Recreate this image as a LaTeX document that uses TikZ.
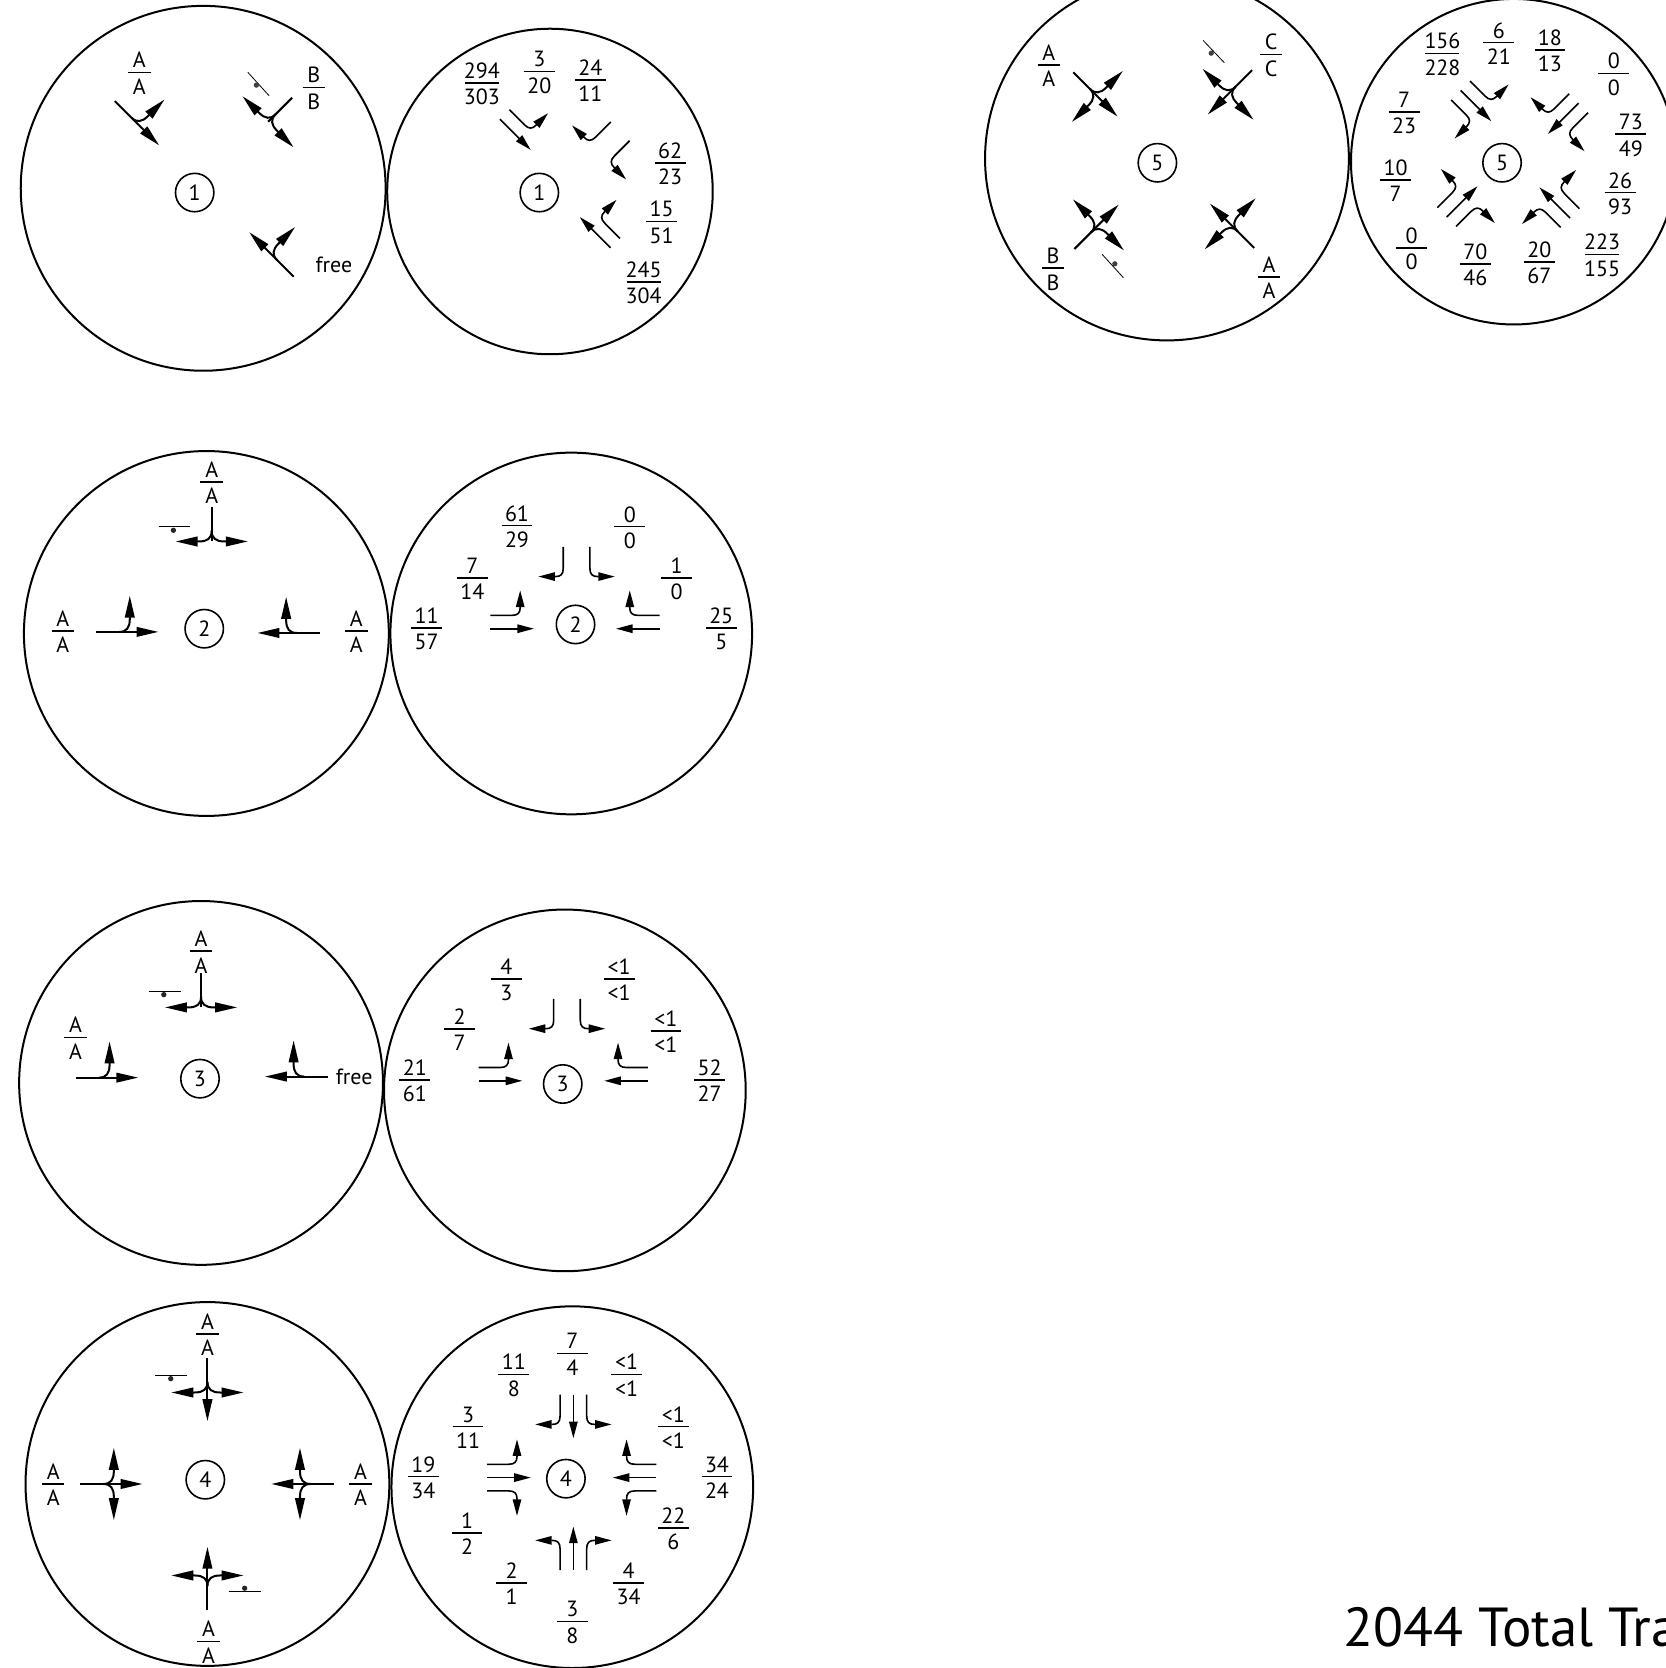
\documentclass[tikz,border=0pt]{standalone}
\usepackage{xcolor}
\usepackage{fontspec}
\setmainfont{PT Sans}
\usetikzlibrary{arrows.meta}
\tikzset{
  ring/.style={line width=1pt, color=black},
  idcircle/.style={circle, draw, minimum size=19.2pt, inner sep=0pt, line width=0.8pt, font=\fontsize{11}{12}\selectfont},
  flowlabel/.style={inner sep=0pt, font=\fontsize{11}{12}\selectfont},
  bigarrow/.style={-{Triangle[length=11pt,width=4.8pt]}, line width=1pt},
  stemline/.style={line width=1pt},
  lanearrow/.style={-{Triangle[length=8.3pt,width=4.2pt]}, line width=0.8pt},
  priority/.style={line width=0.4pt}
}
% turning movements, drawn pointing down, then moved and turned by \lanegroup
\newcommand{\lanegroup}[3]{\begin{scope}[shift={#1},rotate=#2]#3\end{scope}}
\newcommand{\stem}{\draw[stemline] (0,-32) -- (0,0);}
\newcommand{\stemthru}{\draw[bigarrow] (0,0) -- (0,27);}
\newcommand{\stemleft}{\draw[bigarrow] (0,-10) .. controls (0,-3) and (-4,0) .. (-12,0) -- (-34,0);}
\newcommand{\stemright}{\draw[bigarrow] (0,-10) .. controls (0,-3) and (4,0) .. (12,0) -- (34,0);}
\newcommand{\lanethru}{\draw[lanearrow] (0,0) -- (0,41);}
\newcommand{\laneleft}{\draw[lanearrow] (-12.5,0) -- (-12.5,20) .. controls (-12.5,26) and (-15,28) .. (-20,28) -- (-36,28);}
\newcommand{\laneright}{\draw[lanearrow] (12.5,0) -- (12.5,20) .. controls (12.5,26) and (15,28) .. (20,28) -- (36,28);}
\newcommand{\ratio}[3][15.4pt]{\vbox{\offinterlineskip\hbox to #1{\hss\vphantom{0}#2\hss}\kern1.8pt\hrule height 0.75pt\kern2.7pt\hbox to #1{\hss\vphantom{0}#3\hss}}}
\newcommand{\grade}[2]{\ratio[11.2pt]{#1}{#2}}
\begin{document}
\begin{tikzpicture}[x=0.532pt, y=-0.532pt]
  \useasboundingbox (0,0) rectangle (1566,1568);

  % Rings
  \draw[ring] (191,177) circle (171.5);
  \draw[ring] (517,180) circle (153);
  \draw[ring] (194,595.5) circle (171.5);
  \draw[ring] (537,595.5) circle (170);
  \draw[ring] (189,1018) circle (171);
  \draw[ring] (531,1025) circle (170);
  \draw[ring] (195,1395) circle (171);
  \draw[ring] (538,1398) circle (170);
  \draw[ring] (1097,149) circle (171);
  \draw[ring] (1423,152) circle (153);

  % Intersection 1, grades
  \node[idcircle] (id1a) at (183,181) {1};
  \lanegroup{(130.6,117.6)}{45}{\stem\stemthru\stemright}
  \lanegroup{(252,114.5)}{-45}{\stem\stemleft\stemright}
  \lanegroup{(253.4,237.4)}{225}{\stem\stemthru\stemleft}
  \draw[priority] (233,68) -- (253,90);
  \fill[black!75] (241,80) circle (2.5);
  \node[flowlabel] (g1a) at (131,69) {\grade{A}{A}};
  \node[flowlabel] (g1b) at (295,83) {\grade{B}{B}};
  \node[flowlabel] (g1c) at (314,249) {free};

  % Intersection 1, volumes
  \node[idcircle] (id1b) at (507,181) {1};
  \lanegroup{(470,112)}{45}{\lanethru\laneright}
  \lanegroup{(583,123.5)}{-45}{\laneleft\laneright}
  \lanegroup{(574,233)}{225}{\lanethru\laneleft}
  \node[flowlabel] (v1a) at (453,79) {\ratio[17pt]{294}{303}};
  \node[flowlabel] (v1b) at (507,68) {\ratio{3}{20}};
  \node[flowlabel] (v1c) at (555,76) {\ratio{24}{11}};
  \node[flowlabel] (v1d) at (630,154) {\ratio{62}{23}};
  \node[flowlabel] (v1e) at (622,209) {\ratio{15}{51}};
  \node[flowlabel] (v1f) at (605,266) {\ratio[17pt]{245}{304}};

  % Intersection 2, grades
  \node[idcircle] (id2a) at (192,591) {2};
  \lanegroup{(199,509)}{0}{\stem\stemleft\stemright}
  \lanegroup{(122,594)}{90}{\stem\stemthru\stemright}
  \lanegroup{(269,595)}{-90}{\stem\stemthru\stemleft}
  \draw[priority] (149,495) -- (179,495);
  \fill[black!85] (163,498.5) circle (2.5);
  \node[flowlabel] (g2a) at (199,454) {\grade{A}{A}};
  \node[flowlabel] (g2b) at (59,594) {\grade{A}{A}};
  \node[flowlabel] (g2c) at (335,594) {\grade{A}{A}};

  % Intersection 2, volumes
  \node[idcircle] (id2b) at (541,587) {2};
  \lanegroup{(542,514)}{0}{\laneleft\laneright}
  \lanegroup{(461,591)}{90}{\lanethru\laneright}
  \lanegroup{(620,591)}{-90}{\lanethru\laneleft}
  \node[flowlabel] (v2a) at (486,495) {\ratio{61}{29}};
  \node[flowlabel] (v2b) at (592,496) {\ratio{0}{0}};
  \node[flowlabel] (v2c) at (444,544) {\ratio{7}{14}};
  \node[flowlabel] (v2d) at (636,544) {\ratio{1}{0}};
  \node[flowlabel] (v2e) at (401,591) {\ratio{11}{57}};
  \node[flowlabel] (v2f) at (678,591) {\ratio{25}{5}};

  % Intersection 3, grades
  \node[idcircle] (id3a) at (188,1014) {3};
  \lanegroup{(189,947)}{0}{\stem\stemleft\stemright}
  \lanegroup{(103,1013)}{90}{\stem\stemthru\stemright}
  \lanegroup{(276,1012)}{-90}{\stem\stemthru\stemleft}
  \draw[priority] (140,932) -- (170,932);
  \fill[black!85] (154,935) circle (2.5);
  \node[flowlabel] (g3a) at (189,895) {\grade{A}{A}};
  \node[flowlabel] (g3b) at (71,976) {\grade{A}{A}};
  \node[flowlabel] (g3c) at (333,1012) {free};

  % Intersection 3, volumes
  \node[idcircle] (id3b) at (529,1019) {3};
  \lanegroup{(533,939)}{0}{\laneleft\laneright}
  \lanegroup{(450,1016)}{90}{\lanethru\laneright}
  \lanegroup{(609,1016)}{-90}{\lanethru\laneleft}
  \node[flowlabel] (v3a) at (476,921) {\ratio{4}{3}};
  \node[flowlabel] (v3b) at (582,921) {\ratio{<1}{<1}};
  \node[flowlabel] (v3c) at (432,968) {\ratio{2}{7}};
  \node[flowlabel] (v3d) at (626,970) {\ratio{<1}{<1}};
  \node[flowlabel] (v3e) at (390,1016) {\ratio{21}{61}};
  \node[flowlabel] (v3f) at (667,1016) {\ratio{52}{27}};

  % Intersection 4, grades
  \node[idcircle] (id4a) at (193,1391) {4};
  \lanegroup{(195,1309)}{0}{\stem\stemthru\stemleft\stemright}
  \lanegroup{(107,1395)}{90}{\stem\stemthru\stemleft\stemright}
  \lanegroup{(282,1395)}{-90}{\stem\stemthru\stemleft\stemright}
  \lanegroup{(195,1481)}{180}{\stem\stemthru\stemleft\stemright}
  \draw[priority] (146,1293) -- (176,1293);
  \fill[black!85] (160.5,1296) circle (2.5);
  \draw[priority] (215,1496) -- (245,1496);
  \fill[black!85] (230,1493) circle (2.5);
  \node[flowlabel] (g4a) at (195,1255) {\grade{A}{A}};
  \node[flowlabel] (g4b) at (50,1396) {\grade{A}{A}};
  \node[flowlabel] (g4c) at (339,1396) {\grade{A}{A}};
  \node[flowlabel] (g4d) at (196,1544) {\grade{A}{A}};

  % Intersection 4, volumes
  \node[idcircle] (id4b) at (532,1390) {4};
  \lanegroup{(539,1311)}{0}{\lanethru\laneleft\laneright}
  \lanegroup{(458,1389)}{90}{\lanethru\laneleft\laneright}
  \lanegroup{(617,1389)}{-90}{\lanethru\laneleft\laneright}
  \lanegroup{(539,1476)}{180}{\lanethru\laneleft\laneright}
  \node[flowlabel] (v4a) at (538,1273) {\ratio{7}{4}};
  \node[flowlabel] (v4b) at (483,1293) {\ratio{11}{8}};
  \node[flowlabel] (v4c) at (589,1293) {\ratio{<1}{<1}};
  \node[flowlabel] (v4d) at (440,1342) {\ratio{3}{11}};
  \node[flowlabel] (v4e) at (633,1342) {\ratio{<1}{<1}};
  \node[flowlabel] (v4f) at (398,1389) {\ratio{19}{34}};
  \node[flowlabel] (v4g) at (674,1389) {\ratio{34}{24}};
  \node[flowlabel] (v4h) at (439,1442) {\ratio{1}{2}};
  \node[flowlabel] (v4i) at (633,1437) {\ratio{22}{6}};
  \node[flowlabel] (v4j) at (481,1489) {\ratio{2}{1}};
  \node[flowlabel] (v4k) at (591,1489) {\ratio{4}{34}};
  \node[flowlabel] (v4l) at (538,1525) {\ratio{3}{8}};

  % Intersection 5, grades
  \node[idcircle] (id5a) at (1088,153) {5};
  \lanegroup{(1031.6,90.6)}{45}{\stem\stemthru\stemleft\stemright}
  \lanegroup{(1154.4,88.6)}{-45}{\stem\stemthru\stemleft\stemright}
  \lanegroup{(1032.6,211.4)}{135}{\stem\stemthru\stemleft\stemright}
  \lanegroup{(1156.4,210.4)}{225}{\stem\stemthru\stemleft\stemright}
  \draw[priority] (1131,38) -- (1151,59);
  \fill[black!75] (1138.6,50) circle (2.5);
  \draw[priority] (1036,239) -- (1056,261);
  \fill[black!75] (1048,248) circle (2.5);
  \node[flowlabel] (g5a) at (986,62) {\grade{A}{A}};
  \node[flowlabel] (g5b) at (1195,52) {\grade{C}{C}};
  \node[flowlabel] (g5c) at (990,253) {\grade{B}{B}};
  \node[flowlabel] (g5d) at (1193,261) {\grade{A}{A}};

  % Intersection 5, volumes
  \node[idcircle] (id5b) at (1412,153) {5};
  \lanegroup{(1373,85)}{45}{\lanethru\laneleft\laneright}
  \lanegroup{(1484,97)}{-45}{\lanethru\laneleft\laneright}
  \lanegroup{(1360,204)}{135}{\lanethru\laneleft\laneright}
  \lanegroup{(1476,205)}{225}{\lanethru\laneleft\laneright}
  \node[flowlabel] (v5a) at (1356,51) {\ratio[17pt]{156}{228}};
  \node[flowlabel] (v5b) at (1409,41) {\ratio{6}{21}};
  \node[flowlabel] (v5c) at (1457,48) {\ratio{18}{13}};
  \node[flowlabel] (v5d) at (1517,70) {\ratio{0}{0}};
  \node[flowlabel] (v5e) at (1320,106) {\ratio{7}{23}};
  \node[flowlabel] (v5f) at (1533,127) {\ratio{73}{49}};
  \node[flowlabel] (v5g) at (1312,170) {\ratio{10}{7}};
  \node[flowlabel] (v5h) at (1523,182) {\ratio{26}{93}};
  \node[flowlabel] (v5i) at (1327,234) {\ratio{0}{0}};
  \node[flowlabel] (v5j) at (1387,249) {\ratio{70}{46}};
  \node[flowlabel] (v5k) at (1447,247) {\ratio{20}{67}};
  \node[flowlabel] (v5l) at (1506,240) {\ratio[17pt]{223}{155}};

  % Title
  \node[anchor=base west, inner sep=0pt, font=\fontsize{27.5}{30}\selectfont] (title) at (1263,1548) {2044 Total Tra};
\end{tikzpicture}
\end{document}
